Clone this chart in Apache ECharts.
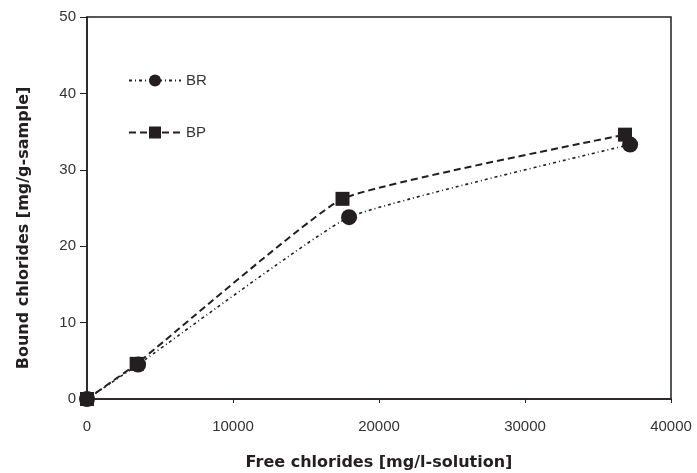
<!DOCTYPE html>
<html lang="en" style="height: 100%">

<head>
  <meta charset="utf-8">
</head>

<body style="height: 100%; margin: 0; background: #fff">
  <div id="container" style="height: 100%"></div>

  <script type="text/javascript" src="https://cdn.jsdelivr.net/npm/echarts@6/dist/echarts.min.js"></script>

  <script type="text/javascript">
    // data
    var seriesNames = ['BR', 'BP'];
    var brFree = [0, 3500, 17950, 37200];
    var brBound = [0, 4.5, 23.8, 33.3];
    var bpFree = [0, 3400, 17500, 36850];
    var bpBound = [0, 4.6, 26.2, 34.6];

    function pairs(xs, ys) {
      return xs.map(function (x, i) { return [x, ys[i]]; });
    }

    var dom = document.getElementById('container');
    var myChart = echarts.init(dom, null, { renderer: 'canvas' });

    var font = 'Liberation Sans, Arial, sans-serif';
    var titleFont = 'DejaVu Sans, Liberation Sans, sans-serif';
    var ink = '#231f20';

    var option = {
      animation: false,
      grid: {
        left: 87, right: 26, top: 17, bottom: 74,
        containLabel: false, outerBoundsMode: 'none',
        show: true, borderColor: ink, borderWidth: 1.5
      },
      legend: {
        orient: 'vertical',
        left: 123,
        top: 68,
        itemWidth: 52,
        itemHeight: 15,
        itemGap: 37,
        data: seriesNames,
        textStyle: { fontFamily: font, fontSize: 15, color: '#333' }
      },
      xAxis: {
        type: 'value',
        min: 0, max: 40000, interval: 10000,
        name: 'Free chlorides [mg/l-solution]',
        nameLocation: 'middle',
        nameGap: 56,
        nameTextStyle: { fontFamily: titleFont, fontSize: 16, fontWeight: 'bold', color: ink },
        axisLine: { lineStyle: { color: ink, width: 1.5 } },
        axisTick: { show: true, length: 4, lineStyle: { color: ink } },
        axisLabel: { fontFamily: font, fontSize: 15, color: '#333', margin: 20, formatter: function (v) { return String(v); } },
        splitLine: { show: false }
      },
      yAxis: {
        type: 'value',
        min: 0, max: 50, interval: 10,
        name: 'Bound chlorides [mg/g-sample]',
        nameLocation: 'middle',
        nameGap: 55,
        nameTextStyle: { fontFamily: titleFont, fontSize: 16, fontWeight: 'bold', color: ink, padding: [0, 40, 0, 0] },
        axisLine: { lineStyle: { color: ink, width: 1.5 } },
        axisTick: { show: true, length: 7, lineStyle: { color: ink } },
        axisLabel: { fontFamily: font, fontSize: 15, color: '#333', margin: 11 },
        splitLine: { show: false }
      },
      series: [
        {
          name: 'BR',
          type: 'line',
          data: pairs(brFree, brBound),
          smooth: 0.12,
          symbol: 'circle',
          symbolSize: 16,
          itemStyle: { color: ink },
          lineStyle: { color: ink, width: 1.6, type: [3, 3, 1, 3] },
          z: 2
        },
        {
          name: 'BP',
          type: 'line',
          data: pairs(bpFree, bpBound),
          smooth: 0.12,
          symbol: 'rect',
          symbolSize: 14,
          itemStyle: { color: ink },
          lineStyle: { color: ink, width: 2, type: [7, 4] },
          z: 3
        }
      ]
    };

    myChart.setOption(option);
    window.addEventListener('resize', myChart.resize);
  </script>
</body>

</html>
